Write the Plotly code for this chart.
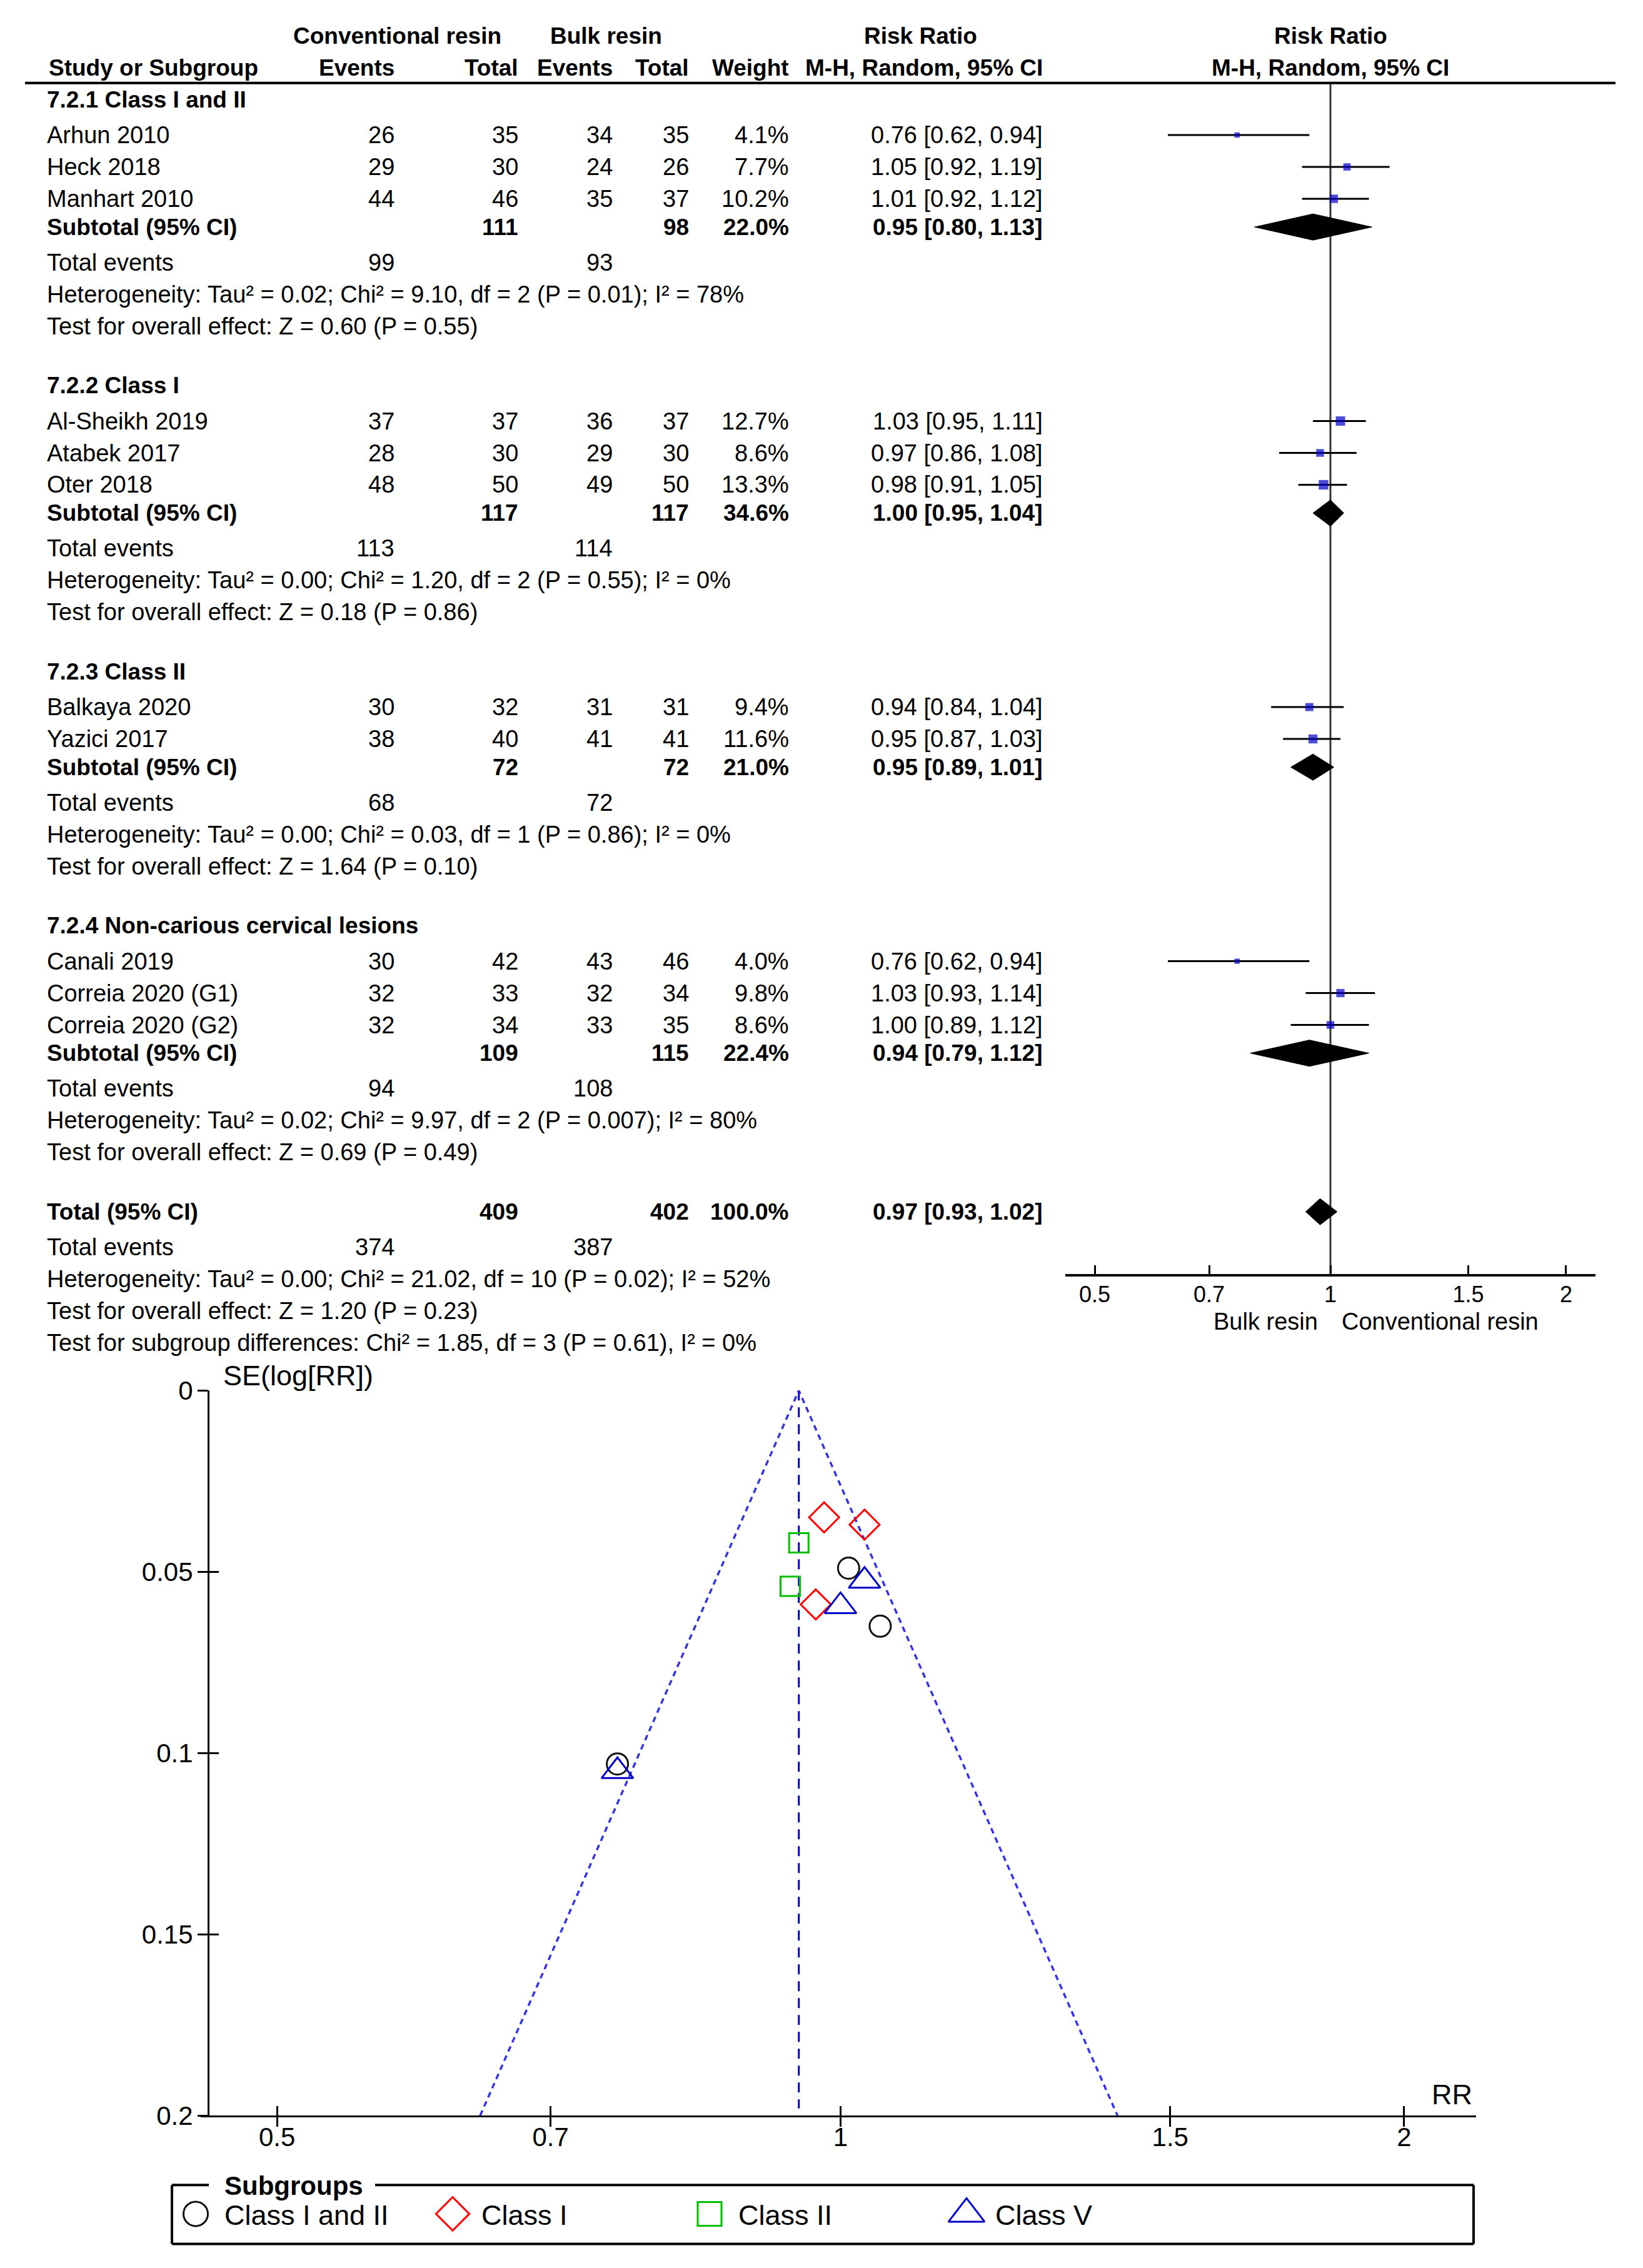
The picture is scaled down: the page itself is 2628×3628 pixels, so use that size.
import math
import plotly.graph_objects as go

W, H = 2628, 3628

# ---------------- data ----------------
group_titles = ["7.2.1 Class I and II", "7.2.2 Class I", "7.2.3 Class II",
                "7.2.4 Non-carious cervical lesions"]
study_names = [["Arhun 2010", "Heck 2018", "Manhart 2010"],
               ["Al-Sheikh 2019", "Atabek 2017", "Oter 2018"],
               ["Balkaya 2020", "Yazici 2017"],
               ["Canali 2019", "Correia 2020 (G1)", "Correia 2020 (G2)"]]
conv_events = [[26, 29, 44], [37, 28, 48], [30, 38], [30, 32, 32]]
conv_total = [[35, 30, 46], [37, 30, 50], [32, 40], [42, 33, 34]]
bulk_events = [[34, 24, 35], [36, 29, 49], [31, 41], [43, 32, 33]]
bulk_total = [[35, 26, 37], [37, 30, 50], [31, 41], [46, 34, 35]]
weights = [[4.1, 7.7, 10.2], [12.7, 8.6, 13.3], [9.4, 11.6], [4.0, 9.8, 8.6]]
rr = [[0.76, 1.05, 1.01], [1.03, 0.97, 0.98], [0.94, 0.95], [0.76, 1.03, 1.00]]
rr_lo = [[0.62, 0.92, 0.92], [0.95, 0.86, 0.91], [0.84, 0.87], [0.62, 0.93, 0.89]]
rr_hi = [[0.94, 1.19, 1.12], [1.11, 1.08, 1.05], [1.04, 1.03], [0.94, 1.14, 1.12]]

sub_conv_total = [111, 117, 72, 109]
sub_bulk_total = [98, 117, 72, 115]
sub_weight = [22.0, 34.6, 21.0, 22.4]
sub_rr = [0.95, 1.00, 0.95, 0.94]
sub_lo = [0.80, 0.95, 0.89, 0.79]
sub_hi = [1.13, 1.04, 1.01, 1.12]
sub_conv_events = [99, 113, 68, 94]
sub_bulk_events = [93, 114, 72, 108]
sub_heterogeneity = [
    "Heterogeneity: Tau² = 0.02; Chi² = 9.10, df = 2 (P = 0.01); I² = 78%",
    "Heterogeneity: Tau² = 0.00; Chi² = 1.20, df = 2 (P = 0.55); I² = 0%",
    "Heterogeneity: Tau² = 0.00; Chi² = 0.03, df = 1 (P = 0.86); I² = 0%",
    "Heterogeneity: Tau² = 0.02; Chi² = 9.97, df = 2 (P = 0.007); I² = 80%"]
sub_overall = ["Test for overall effect: Z = 0.60 (P = 0.55)",
               "Test for overall effect: Z = 0.18 (P = 0.86)",
               "Test for overall effect: Z = 1.64 (P = 0.10)",
               "Test for overall effect: Z = 0.69 (P = 0.49)"]

total_conv_total = 409
total_bulk_total = 402
total_weight = 100.0
total_rr, total_lo, total_hi = 0.97, 0.93, 1.02
total_conv_events = 374
total_bulk_events = 387
total_notes = ["Heterogeneity: Tau² = 0.00; Chi² = 21.02, df = 10 (P = 0.02); I² = 52%",
               "Test for overall effect: Z = 1.20 (P = 0.23)",
               "Test for subgroup differences: Chi² = 1.85, df = 3 (P = 0.61), I² = 0%"]

forest_ticks = [0.5, 0.7, 1, 1.5, 2]
forest_ticktext = ["0.5", "0.7", "1", "1.5", "2"]
forest_left_label = "Bulk resin"
forest_right_label = "Conventional resin"

# funnel plot: standard errors
funnel_se = [[0.103, 0.065, 0.049], [0.037, 0.059, 0.035], [0.054, 0.042], [0.105, 0.0525, 0.0595]]
funnel_center = 0.95
subgroup_labels = ["Class I and II", "Class I", "Class II", "Class V"]
funnel_xticks = [0.5, 0.7, 1, 1.5, 2]
funnel_xticktext = ["0.5", "0.7", "1", "1.5", "2"]
funnel_yticks = [0, 0.05, 0.1, 0.15, 0.2]
funnel_yticktext = ["0", "0.05", "0.1", "0.15", "0.2"]

# ---------------- styling / layout constants ----------------
FONT = "Liberation Sans, Arial, sans-serif"
FS = 38          # forest regular text
FB = 37          # forest bold text
FF = 42          # funnel tick text
FL = 45          # funnel labels / legend text
S = W / 1135.0   # scale of the reference layout grid

# page placement correction (page offset / vertical fit)
XOFF = 8.0
YOFF = 29.2
YSC = 0.9866

def P(x):  # target pixel x -> paper
    return (x - XOFF) / W

def Q(y):  # target pixel y -> paper
    return 1 - ((y - YOFF) / YSC) / H

annotations = []
shapes = []

def txt(x, y, s, anchor="left", bold=False, size=None):
    if size is None:
        size = FB if bold else FS
    annotations.append(dict(
        x=P(x), y=Q(y), xref="paper", yref="paper", text=f"<b>{s}</b>" if bold else s,
        showarrow=False, xanchor=anchor, yanchor="middle",
        font=dict(family=FONT, size=size, color="black")))

# column positions (pixels)
C_NAME = 73
C_CE = 633
C_CT = 831
C_BE = 982
C_BT = 1104
C_W = 1264
C_RR = 1670
HEAD_LINE_Y = 131
F_AXIS_Y = 2035

# header
txt(635, 56, "Conventional resin", "center", True)
txt(969, 56, "Bulk resin", "center", True)
txt(1472, 56, "Risk Ratio", "center", True)
txt(2128, 56, "Risk Ratio", "center", True)
txt(76, 107, "Study or Subgroup", "left", True)
txt(C_CE, 107, "Events", "right", True)
txt(C_CT, 107, "Total", "right", True)
txt(C_BE, 107, "Events", "right", True)
txt(C_BT, 107, "Total", "right", True)
txt(C_W, 107, "Weight", "right", True)
txt(C_RR, 107, "M-H, Random, 95% CI", "right", True)
txt(2128, 107, "M-H, Random, 95% CI", "center", True)
shapes.append(dict(type="line", xref="paper", yref="paper", x0=P(40), x1=P(2584),
                   y0=Q(HEAD_LINE_Y), y1=Q(HEAD_LINE_Y), line=dict(color="black", width=4)))

def fmt_ci(a, b, c):
    return f"{a:.2f} [{b:.2f}, {c:.2f}]"

# row positions
y = 68 * S
ci_x, ci_y = [], []
sq_x, sq_y, sq_s = [], [], []
diamonds = []
for g in range(len(group_titles)):
    txt(C_NAME, y, group_titles[g], "left", True)
    y += 24.5 * S
    for k, name in enumerate(study_names[g]):
        txt(C_NAME, y, name)
        txt(C_CE, y, str(conv_events[g][k]), "right")
        txt(C_CT, y, str(conv_total[g][k]), "right")
        txt(C_BE, y, str(bulk_events[g][k]), "right")
        txt(C_BT, y, str(bulk_total[g][k]), "right")
        txt(C_W, y, f"{weights[g][k]:.1f}%", "right")
        txt(C_RR, y, fmt_ci(rr[g][k], rr_lo[g][k], rr_hi[g][k]), "right")
        ci_x += [rr_lo[g][k], rr_hi[g][k], None]
        ci_y += [y, y, None]
        sq_x.append(rr[g][k]); sq_y.append(y); sq_s.append(4.2 * math.sqrt(weights[g][k]))
        if k < len(study_names[g]) - 1:
            y += 22 * S
    y += 19.5 * S
    txt(C_NAME, y, "Subtotal (95% CI)", "left", True)
    txt(C_CT, y, str(sub_conv_total[g]), "right", True)
    txt(C_BT, y, str(sub_bulk_total[g]), "right", True)
    txt(C_W, y, f"{sub_weight[g]:.1f}%", "right", True)
    txt(C_RR, y, fmt_ci(sub_rr[g], sub_lo[g], sub_hi[g]), "right", True)
    diamonds.append((sub_lo[g], sub_rr[g], sub_hi[g], y))
    y += 24.5 * S
    txt(C_NAME, y, "Total events")
    txt(C_CE, y, str(sub_conv_events[g]), "right")
    txt(C_BE, y, str(sub_bulk_events[g]), "right")
    y += 22 * S
    txt(C_NAME, y, sub_heterogeneity[g])
    y += 22 * S
    txt(C_NAME, y, sub_overall[g])
    y += 41 * S

# overall total
txt(C_NAME, y, "Total (95% CI)", "left", True)
txt(C_CT, y, str(total_conv_total), "right", True)
txt(C_BT, y, str(total_bulk_total), "right", True)
txt(C_W, y, f"{total_weight:.1f}%", "right", True)
txt(C_RR, y, fmt_ci(total_rr, total_lo, total_hi), "right", True)
diamonds.append((total_lo, total_rr, total_hi, y))
y += 24.5 * S
txt(C_NAME, y, "Total events")
txt(C_CE, y, str(total_conv_events), "right")
txt(C_BE, y, str(total_bulk_events), "right")
for note in total_notes:
    y += 22 * S
    txt(C_NAME, y, note)

# labels under forest axis
txt(2110, 2111, forest_left_label, "right")
txt(2144, 2111, forest_right_label, "left")

fig = go.Figure()

# forest: reference line at RR = 1
fig.add_trace(go.Scatter(x=[1, 1], y=[HEAD_LINE_Y, F_AXIS_Y], mode="lines",
                         line=dict(color="#333333", width=3), xaxis="x", yaxis="y",
                         showlegend=False, hoverinfo="skip"))
fig.add_trace(go.Scatter(x=ci_x, y=ci_y, mode="lines", line=dict(color="black", width=3),
                         xaxis="x", yaxis="y", showlegend=False, hoverinfo="skip"))
fig.add_trace(go.Scatter(x=sq_x, y=sq_y, mode="markers",
                         marker=dict(symbol="square", size=sq_s, color="#0000C8", line=dict(width=0)),
                         xaxis="x", yaxis="y", showlegend=False))
for lo, est, hi, yy in diamonds:
    fig.add_trace(go.Scatter(x=[lo, est, hi, est, lo], y=[yy, yy - 21, yy, yy + 21, yy],
                             mode="lines", fill="toself", fillcolor="black",
                             line=dict(color="black", width=1), xaxis="x", yaxis="y",
                             showlegend=False, hoverinfo="skip"))

# funnel: pseudo 95% limits and summary line
z = 1.96
se_max = funnel_yticks[-1]
fig.add_trace(go.Scatter(x=[funnel_center, funnel_center], y=[0, se_max * 0.99], mode="lines",
                         line=dict(color="#0000CC", width=3, dash="16px,11px"),
                         xaxis="x2", yaxis="y2", showlegend=False, hoverinfo="skip"))
fig.add_trace(go.Scatter(
    x=[funnel_center * math.exp(-z * se_max), funnel_center, funnel_center * math.exp(z * se_max)],
    y=[se_max, 0, se_max], mode="lines",
    line=dict(color="rgba(30,30,225,0.9)", width=3.5, dash="9px,7px"),
    xaxis="x2", yaxis="y2", showlegend=False, hoverinfo="skip"))

sym = ["circle-open", "diamond-open", "square-open", "triangle-up-open"]
col = ["#111111", "#FF0000", "#00C000", "#0000CC"]
fsize = [34, 37, 31, 44]
for g in range(len(subgroup_labels)):
    fig.add_trace(go.Scatter(x=rr[g], y=funnel_se[g], mode="markers", name=subgroup_labels[g],
                             marker=dict(symbol=sym[g], size=fsize[g], color=col[g],
                                         line=dict(color=col[g], width=3)),
                             xaxis="x2", yaxis="y2", showlegend=False))

# dummy trace for overlay tick axes
fig.add_trace(go.Scatter(x=[1], y=[0.1], mode="markers", marker=dict(opacity=0),
                         xaxis="x4", yaxis="y4", showlegend=False, hoverinfo="skip"))

# custom legend (overlay axis in target pixel units)
leg_sizes = [39, 41, 38, 50]
LEG_Y = 3538
for g in range(len(subgroup_labels)):
    lx = 313 + 411 * g
    fig.add_trace(go.Scatter(x=[lx], y=[LEG_Y], mode="markers",
                             marker=dict(symbol=sym[g], size=leg_sizes[g], color=col[g],
                                         line=dict(color=col[g], width=3)),
                             xaxis="x5", yaxis="y5", showlegend=False, hoverinfo="skip"))
    txt(lx + 44, LEG_Y + 2, subgroup_labels[g], "left", False, FL)
txt(357, 3493, "Subgroups", "left", True, FF)
BX0, BX1, BY0, BY1 = 275, 2357, 3492, 3586
for (x0, y0, x1, y1) in [(BX0, BY0, 334, BY0), (600, BY0, BX1, BY0), (BX0, BY0, BX0, BY1),
                         (BX1, BY0, BX1, BY1), (BX0, BY1, BX1, BY1)]:
    shapes.append(dict(type="line", xref="paper", yref="paper", x0=P(x0), x1=P(x1),
                       y0=Q(y0), y1=Q(y1), line=dict(color="black", width=4)))

# funnel axis titles
txt(355, 2198, "SE(log[RR])", "left", False, FL)
txt(2357, 3347, "RR", "right", False, FL)

F_Y0, F_Y1 = 2221.5, 3381
tickfont_f = dict(family=FONT, size=FF, color="black")

fig.update_layout(
    width=W, height=H, margin=dict(l=0, r=0, t=0, b=0),
    paper_bgcolor="white", plot_bgcolor="rgba(0,0,0,0)",
    showlegend=False,
    annotations=annotations, shapes=shapes,
    xaxis=dict(type="log", domain=[P(1704), P(2552)], range=[-0.3386, 0.3386], anchor="y",
               showline=True, linecolor="black", linewidth=4, ticks="inside", ticklen=14,
               tickwidth=3, tickcolor="black", tickvals=forest_ticks, ticktext=forest_ticktext,
               tickfont=dict(family=FONT, size=36, color="black"), ticklabelstandoff=-2,
               showgrid=False, zeroline=False),
    yaxis=dict(domain=[Q(F_AXIS_Y), Q(HEAD_LINE_Y)], range=[F_AXIS_Y, HEAD_LINE_Y],
               visible=False, anchor="x"),
    xaxis2=dict(type="log", domain=[P(321), P(2361)], range=[-0.3418, 0.3395], anchor="y2",
                showline=True, linecolor="black", linewidth=3, ticks="outside", ticklen=15,
                tickwidth=3, tickcolor="black", tickvals=funnel_xticks, ticktext=funnel_xticktext,
                tickfont=tickfont_f, ticklabelstandoff=-20, showgrid=False, zeroline=False),
    yaxis2=dict(domain=[Q(F_Y1), Q(F_Y0)], range=[se_max, 0], anchor="free", position=P(333),
                showline=True, linecolor="black", linewidth=3, ticks="outside", ticklen=16,
                tickwidth=3, tickcolor="black", tickvals=funnel_yticks, ticktext=funnel_yticktext,
                tickfont=tickfont_f, ticklabelstandoff=-1, showgrid=False, zeroline=False),
    xaxis4=dict(type="log", overlaying="x2", domain=[P(321), P(2361)], range=[-0.3418, 0.3395],
                anchor="y2", showline=False, ticks="inside", ticklen=15, tickwidth=3,
                tickcolor="black", tickvals=funnel_xticks, showticklabels=False,
                showgrid=False, zeroline=False),
    yaxis4=dict(overlaying="y2", domain=[Q(F_Y1), Q(F_Y0)], range=[se_max, 0], anchor="free",
                position=P(333), showline=False, ticks="inside", ticklen=16, tickwidth=3,
                tickcolor="black", tickvals=funnel_yticks, showticklabels=False,
                showgrid=False, zeroline=False),
    xaxis5=dict(domain=[0, 1], range=[XOFF, W + XOFF], anchor="y5", visible=False),
    yaxis5=dict(domain=[0, 1], range=[YOFF + YSC * H, YOFF], anchor="x5", visible=False),
)

fig.write_html("out.html")
